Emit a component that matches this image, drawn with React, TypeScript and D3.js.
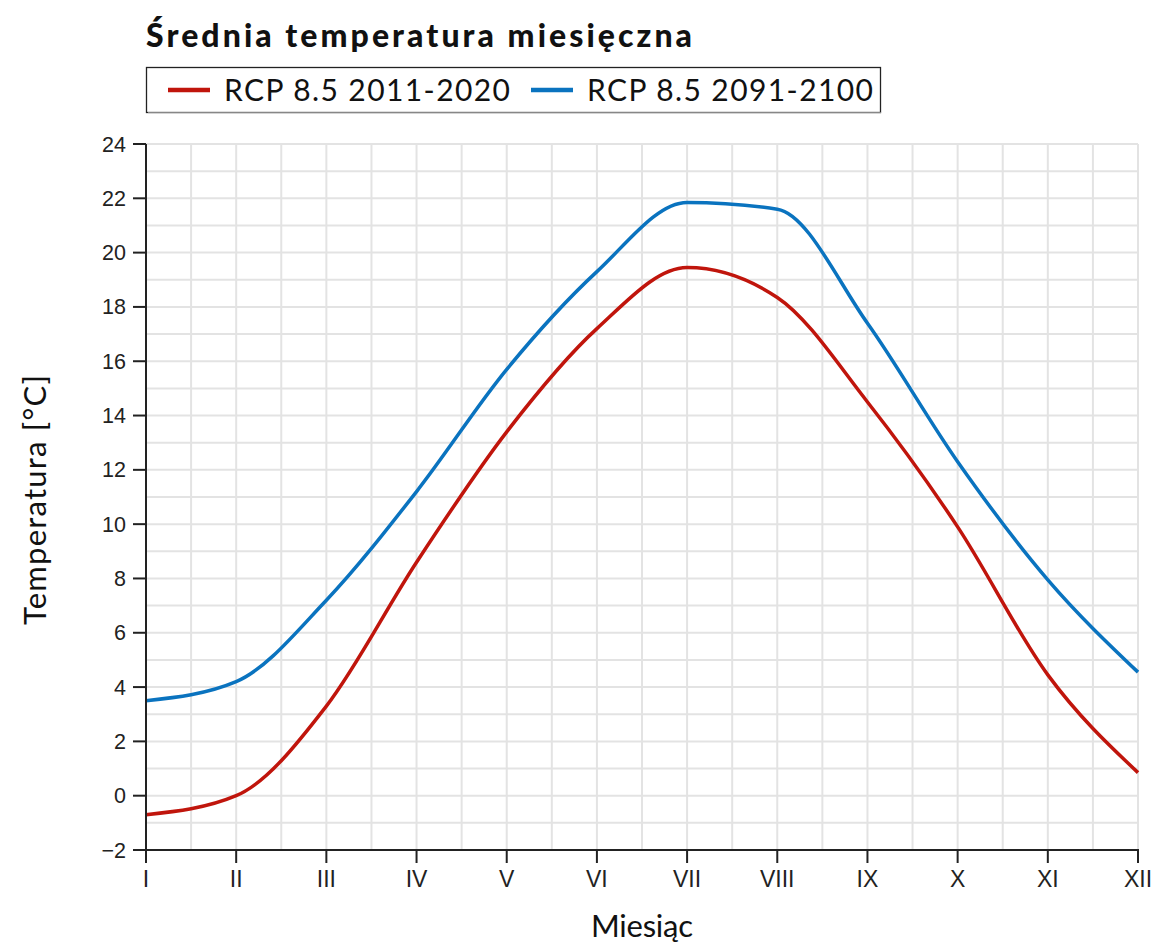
import React from "react";
import * as d3 from "d3";

const months = ["I", "II", "III", "IV", "V", "VI", "VII", "VIII", "IX", "X", "XI", "XII"];
const rcp2011 = [-0.7, 0.0, 3.3, 8.6, 13.4, 17.2, 19.45, 18.35, 14.5, 9.9, 4.45, 0.85];
const rcp2091 = [3.5, 4.2, 7.2, 11.2, 15.7, 19.3, 21.85, 21.6, 17.4, 12.3, 7.95, 4.55];
const seriesNames = ["RCP 8.5 2011-2020", "RCP 8.5 2091-2100"];
const seriesColors = ["#c0150c", "#0a73bf"];
const yTicks = [-2, 0, 2, 4, 6, 8, 10, 12, 14, 16, 18, 20, 22, 24];

const W = 1153, H = 945;
const left = 146, right = 1138, top = 144, bottom = 850;

export default function App() {
  const x = d3.scaleLinear().domain([0, 11]).range([left, right]);
  const y = d3.scaleLinear().domain([-2, 24]).range([bottom, top]);
  const line = d3
    .line<number>()
    .x((_, i) => x(i))
    .y((d) => y(d))
    .curve(d3.curveMonotoneX);
  const series = [rcp2011, rcp2091];
  const vGrid = d3.range(0, 11.01, 0.5);
  const hGrid = d3.range(-2, 24.01, 1);
  const gill = "'Gill Sans', 'Gill Sans MT', Lato, 'Open Sans', sans-serif";
  const arial = "'Liberation Sans', Arial, sans-serif";
  return (
    <svg width={W} height={H} style={{ position: "absolute", left: 0, top: 0, background: "#fff" }}>
      <text x={146} y={47} fontFamily={gill} fontWeight={900} fontSize={32} fill="#111" textLength={546} lengthAdjust="spacing">
        Średnia temperatura miesięczna
      </text>
      <rect x={146.5} y={67.5} width={734} height={45} fill="#fff" stroke="#222" strokeWidth={1.3} />
      <rect x={148} y={112} width={733} height={2} fill="#ccc" opacity={0.6} />
      {seriesNames.map((n, i) => (
        <g key={n} transform={`translate(${i === 0 ? 168 : 531},0)`}>
          <line x1={0} x2={42} y1={90} y2={90} stroke={seriesColors[i]} strokeWidth={4.5} />
          <text x={56} y={101} fontFamily={gill} fontSize={30} fill="#111" textLength={286} lengthAdjust="spacing">
            {n}
          </text>
        </g>
      ))}
      <g>
        {hGrid.map((v) => (
          <line key={"h" + v} x1={left} x2={right} y1={y(v)} y2={y(v)} stroke="#e3e3e3" strokeWidth={2} />
        ))}
        {vGrid.map((v) => (
          <line key={"v" + v} x1={x(v)} x2={x(v)} y1={top} y2={bottom} stroke="#e3e3e3" strokeWidth={2} />
        ))}
      </g>
      {series.map((s, i) => (
        <path key={i} d={line(s) || ""} fill="none" stroke={seriesColors[i]} strokeWidth={3.5} strokeLinejoin="round" />
      ))}
      <line x1={left} x2={left} y1={top} y2={bottom + 13} stroke="#222" strokeWidth={2} />
      <line x1={left - 13} x2={right + 1} y1={bottom} y2={bottom} stroke="#222" strokeWidth={2} />
      {yTicks.map((t) => (
        <g key={"yt" + t}>
          <line x1={left - 13} x2={left} y1={y(t)} y2={y(t)} stroke="#222" strokeWidth={2} />
          <text x={left - 20} y={y(t) + 7.5} textAnchor="end" fontFamily={arial} fontSize={21.5} fill="#222">
            {t < 0 ? "\u2212" + Math.abs(t) : t}
          </text>
        </g>
      ))}
      {months.map((m, i) => (
        <g key={m}>
          <line x1={x(i)} x2={x(i)} y1={bottom} y2={bottom + 13} stroke="#222" strokeWidth={2} />
          <text x={x(i)} y={bottom + 37} textAnchor="middle" fontFamily={arial} fontSize={23} fill="#222">
            {m}
          </text>
        </g>
      ))}
      <text x={642} y={937} textAnchor="middle" fontFamily={gill} fontSize={31} fill="#111" textLength={102} lengthAdjust="spacing">
        Miesiąc
      </text>
      <text
        transform={`translate(46,500) rotate(-90)`}
        textAnchor="middle"
        fontFamily={gill}
        fontSize={31}
        fill="#111"
        textLength={250}
        lengthAdjust="spacing"
      >
        Temperatura [°C]
      </text>
    </svg>
  );
}
